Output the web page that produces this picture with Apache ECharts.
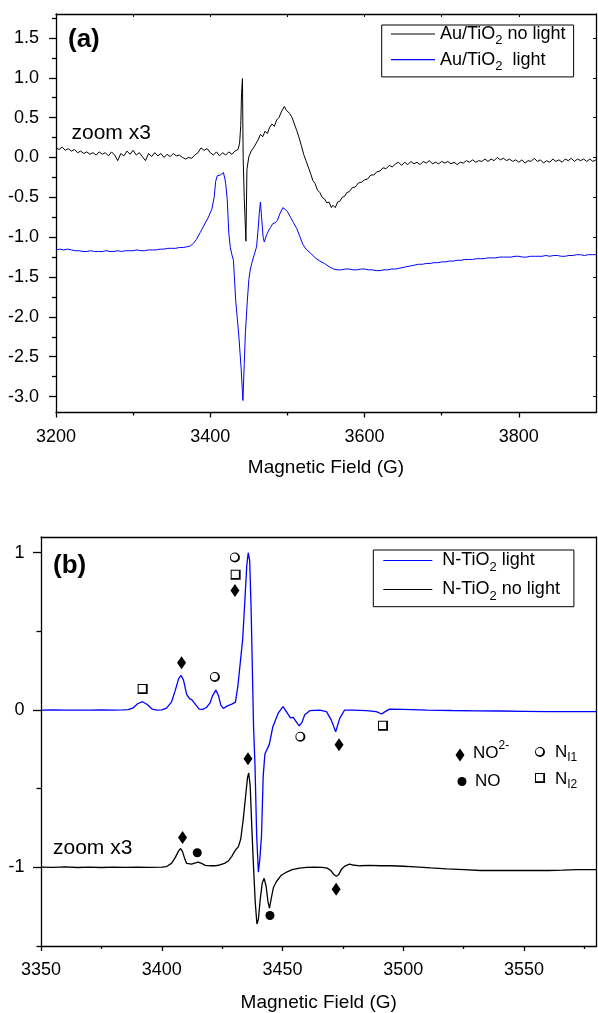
<!DOCTYPE html>
<html><head><meta charset="utf-8">
<script src="https://cdn.jsdelivr.net/npm/echarts@6/dist/echarts.min.js"></script>
<style>html,body{margin:0;padding:0;background:#fff}#c{width:598px;height:1013px}</style>
</head><body><div id="c"></div>
<script>
const FONT = '"Liberation Sans", Arial, Helvetica, sans-serif';
const BLUE = '#0000ff';

// ---------- Panel (a) ----------
const aXTicks = [3200, 3400, 3600, 3800];
const aXMinor = [3300, 3500, 3700];
const aXTop = [3300, 3400, 3500, 3600, 3700, 3800];
const aYTicks = [-3, -2.5, -2, -1.5, -1, -0.5, 0, 0.5, 1, 1.5];
const aYMinor = [-3.25, -2.75, -2.25, -1.75, -1.25, -0.75, -0.25, 0.25, 0.75, 1.25, 1.75];

const auNoLight = [
[3200,0.12],[3204,0.10],[3208,0.13],[3212,0.09],[3216,0.11],[3220,0.08],[3224,0.10],[3228,0.06],[3232,0.08],[3236,0.05],
[3240,0.07],[3244,0.04],[3248,0.06],[3252,0.03],[3256,0.07],[3260,0.04],[3264,0.06],[3268,0.02],[3272,0.07],[3276,0.03],
[3280,-0.04],[3284,0.05],[3288,0.02],[3292,0.08],[3296,0.04],[3300,0.09],[3304,0.03],[3308,0.06],[3312,0.01],[3316,-0.04],
[3320,0.05],[3324,0.01],[3328,0.06],[3332,0.02],[3336,0.05],[3340,0.00],[3344,0.04],[3348,0.01],[3352,0.05],[3356,0.02],
[3360,0.03],[3364,0.00],[3368,-0.02],[3372,0.00],[3376,-0.01],[3380,0.03],[3384,0.06],[3388,0.12],[3392,0.09],[3396,0.11],
[3400,0.06],[3404,0.03],[3408,0.07],[3412,0.02],[3416,0.06],[3420,0.03],[3424,0.07],[3428,0.04],[3432,0.08],[3436,0.10],
[3438,0.18],[3439.5,0.40],[3440.5,0.80],[3441.7,0.99],[3442.6,0.00],[3444,-0.50],[3446.2,-1.05],[3447.5,-0.15],[3450,0.01],
[3453,0.08],[3456,0.12],[3459,0.17],[3462,0.22],[3465,0.29],[3468,0.26],[3471,0.33],[3474,0.30],[3477,0.38],[3480,0.42],
[3483,0.39],[3486,0.47],[3489,0.50],[3492,0.57],[3494,0.55],[3496,0.64],[3498,0.60],[3500,0.62],[3503,0.55],[3506,0.50],
[3509,0.42],[3512,0.34],[3515,0.25],[3518,0.15],[3521,0.04],[3524,-0.04],[3527,-0.12],[3530,-0.20],[3533,-0.29],[3536,-0.33],
[3539,-0.41],[3542,-0.44],[3545,-0.50],[3548,-0.52],[3551,-0.57],[3554,-0.56],[3557,-0.63],[3559,-0.60],[3562,-0.63],[3565,-0.56],
[3568,-0.55],[3571,-0.50],[3574,-0.49],[3577,-0.44],[3580,-0.43],[3584,-0.38],[3588,-0.37],[3592,-0.32],[3596,-0.31],[3600,-0.28],
[3604,-0.27],[3608,-0.22],[3612,-0.22],[3616,-0.18],[3620,-0.17],[3624,-0.13],[3628,-0.14],[3632,-0.10],[3636,-0.12],[3640,-0.08],
[3644,-0.06],[3648,-0.10],[3652,-0.06],[3656,-0.09],[3660,-0.05],[3664,-0.08],[3668,-0.06],[3672,-0.09],[3676,-0.05],[3680,-0.07],
[3684,-0.04],[3688,-0.08],[3692,-0.06],[3696,-0.08],[3700,-0.05],[3704,-0.07],[3708,-0.05],[3712,-0.08],[3716,-0.06],[3720,-0.09],
[3724,-0.06],[3728,-0.07],[3732,-0.04],[3736,-0.06],[3740,-0.03],[3744,-0.06],[3748,-0.04],[3752,-0.05],[3756,-0.02],[3760,-0.05],
[3764,-0.02],[3768,-0.04],[3772,0.00],[3776,-0.03],[3780,-0.01],[3784,-0.04],[3788,-0.02],[3792,-0.05],[3796,-0.03],[3800,-0.06],
[3804,-0.03],[3808,-0.07],[3812,-0.04],[3816,-0.05],[3820,-0.01],[3824,-0.05],[3828,-0.03],[3832,-0.07],[3836,-0.04],[3840,-0.06],
[3844,-0.02],[3848,-0.05],[3852,-0.03],[3856,-0.06],[3860,-0.02],[3864,-0.04],[3868,-0.01],[3872,-0.05],[3876,-0.02],[3880,-0.04],
[3884,-0.02],[3888,-0.05],[3892,-0.02],[3896,-0.05],[3900,-0.03]
];

const auLight = [
[3200,-1.16],[3205,-1.15],[3210,-1.16],[3215,-1.15],[3220,-1.16],[3225,-1.17],[3230,-1.17],[3235,-1.18],[3240,-1.18],[3245,-1.17],
[3250,-1.18],[3255,-1.18],[3260,-1.18],[3265,-1.17],[3270,-1.18],[3275,-1.18],[3280,-1.17],[3285,-1.18],[3290,-1.17],[3295,-1.17],
[3300,-1.17],[3305,-1.16],[3310,-1.17],[3315,-1.17],[3320,-1.16],[3325,-1.16],[3330,-1.16],[3335,-1.15],[3340,-1.15],[3345,-1.14],
[3350,-1.14],[3355,-1.14],[3360,-1.13],[3365,-1.13],[3370,-1.12],[3374,-1.11],[3378,-1.08],[3382,-1.03],[3387,-0.94],[3392,-0.85],
[3397,-0.76],[3402,-0.65],[3405,-0.50],[3407,-0.30],[3409,-0.23],[3411,-0.21],[3413,-0.22],[3415,-0.21],[3417,-0.19],[3419,-0.27],
[3420,-0.33],[3422,-0.53],[3424,-0.95],[3426,-1.13],[3428,-1.22],[3430,-1.29],[3433,-1.80],[3437,-2.24],[3440,-2.65],[3442.3,-3.05],
[3444,-2.60],[3445.5,-2.20],[3448,-1.80],[3450,-1.53],[3452,-1.40],[3454,-1.32],[3457,-1.22],[3460,-1.12],[3462,-0.90],[3463.5,-0.70],
[3465,-0.56],[3466.5,-0.75],[3468.5,-1.00],[3470,-1.06],[3473,-0.97],[3476,-0.91],[3478,-0.88],[3481,-0.83],[3484,-0.82],[3487,-0.79],
[3490,-0.71],[3494,-0.63],[3497,-0.65],[3500,-0.68],[3504,-0.75],[3508,-0.82],[3512,-0.89],[3516,-0.99],[3520,-1.09],[3524,-1.15],
[3530,-1.20],[3536,-1.26],[3542,-1.30],[3548,-1.33],[3554,-1.37],[3560,-1.40],[3565,-1.41],[3570,-1.41],[3575,-1.40],[3580,-1.40],
[3585,-1.41],[3590,-1.41],[3595,-1.40],[3600,-1.40],[3605,-1.41],[3610,-1.41],[3615,-1.42],[3620,-1.42],[3625,-1.41],[3630,-1.41],
[3635,-1.40],[3640,-1.40],[3645,-1.39],[3650,-1.38],[3655,-1.37],[3660,-1.36],[3665,-1.35],[3670,-1.34],[3675,-1.34],[3680,-1.33],
[3685,-1.33],[3690,-1.32],[3695,-1.32],[3700,-1.31],[3705,-1.31],[3710,-1.30],[3715,-1.30],[3720,-1.29],[3725,-1.29],[3730,-1.28],
[3735,-1.28],[3740,-1.28],[3745,-1.27],[3750,-1.27],[3755,-1.27],[3760,-1.26],[3765,-1.26],[3770,-1.26],[3775,-1.25],[3780,-1.25],
[3785,-1.25],[3790,-1.25],[3795,-1.24],[3800,-1.24],[3805,-1.25],[3810,-1.25],[3815,-1.24],[3820,-1.24],[3825,-1.24],[3830,-1.24],
[3835,-1.23],[3840,-1.24],[3845,-1.23],[3850,-1.23],[3855,-1.24],[3860,-1.24],[3865,-1.23],[3870,-1.23],[3875,-1.22],[3880,-1.22],
[3885,-1.23],[3890,-1.22],[3895,-1.22],[3900,-1.22]
];

// ---------- Panel (b) ----------
const bXTicks = [3350, 3400, 3450, 3500, 3550];
const bXMinor = [3375, 3425, 3475, 3525, 3575];
const bYTicks = [-1, 0, 1];
const bYMinor = [-1.5, -0.5, 0.5];

const nLight = [
[3350,0.000],[3355,0.001],[3360,0.000],[3365,-0.001],[3370,0.000],[3375,0.001],[3380,0.000],[3384,0.001],[3386,0.003],[3388,0.012],
[3390,0.040],[3392,0.053],[3394,0.035],[3396,0.006],[3398,0.000],[3400,0.001],[3402,0.012],[3404,0.050],[3405.5,0.120],[3407,0.200],
[3408,0.220],[3409,0.190],[3410.3,0.100],[3411.5,0.072],[3412.5,0.065],[3414,0.035],[3415.5,0.006],[3417,0.004],[3418.5,0.016],[3420,0.045],
[3421,0.090],[3422.4,0.127],[3423.5,0.090],[3424.5,0.030],[3425.5,0.010],[3427,0.025],[3429,0.038],[3430.5,0.050],[3431.5,0.150],[3432.5,0.300],
[3433.5,0.450],[3434.5,0.720],[3435.2,0.920],[3435.8,1.000],[3436.4,0.950],[3437,0.640],[3438,-0.100],[3438.6,-0.350],[3439.3,-0.800],[3440,-1.030],
[3440.6,-0.950],[3441.3,-0.800],[3442,-0.420],[3442.7,-0.280],[3444.5,-0.220],[3446,-0.106],[3448.2,-0.020],[3450.2,0.021],[3451.6,-0.010],[3453.3,-0.050],
[3454.4,-0.047],[3455.5,-0.070],[3456.9,-0.100],[3458,-0.080],[3459.2,-0.030],[3461.3,-0.004],[3465.4,0.000],[3468.2,-0.010],[3470.2,-0.064],[3472,-0.138],
[3473.7,-0.053],[3475.7,0.000],[3479.2,0.000],[3484.7,-0.004],[3488.8,-0.010],[3491,-0.025],[3492.5,-0.010],[3494.3,0.006],[3500,0.004],[3510,0.000],
[3520,-0.003],[3530,-0.005],[3540,-0.006],[3550,-0.008],[3560,-0.010],[3570,-0.010],[3580,-0.010]
];

const nNoLight = [
[3350,-0.998],[3355,-1.000],[3360,-0.997],[3365,-1.001],[3370,-0.998],[3375,-1.001],[3380,-0.999],[3385,-1.000],[3390,-0.998],[3395,-1.000],
[3400,-0.998],[3402,-0.995],[3404,-0.975],[3405.5,-0.940],[3407,-0.895],[3407.8,-0.880],[3408.6,-0.900],[3409.4,-0.940],[3410.3,-0.975],[3411,-0.987],
[3412.3,-0.980],[3414,-0.972],[3415,-0.967],[3416.5,-0.975],[3418,-0.987],[3420,-0.990],[3422,-0.990],[3424,-0.985],[3426,-0.975],[3427.5,-0.960],
[3429,-0.930],[3430.5,-0.890],[3431.7,-0.870],[3432.7,-0.820],[3433.7,-0.700],[3434.7,-0.550],[3435.5,-0.430],[3436,-0.400],[3436.6,-0.480],[3437.3,-0.750],
[3438,-1.000],[3438.7,-1.220],[3439.4,-1.360],[3440,-1.330],[3440.8,-1.200],[3441.6,-1.100],[3442.4,-1.070],[3443.2,-1.120],[3444,-1.220],[3444.6,-1.260],
[3445.3,-1.200],[3446.2,-1.130],[3447.5,-1.090],[3449.5,-1.050],[3451.7,-1.030],[3454,-1.015],[3457,-1.005],[3460,-1.000],[3463,-0.998],[3466.4,-1.000],
[3468.5,-1.005],[3470,-1.020],[3471.2,-1.045],[3472.3,-1.057],[3473.3,-1.045],[3474.5,-1.010],[3476,-0.990],[3477.7,-0.980],[3479,-0.985],[3482,-0.990],
[3486,-0.988],[3490.7,-0.990],[3495,-0.990],[3500,-0.993],[3505,-0.997],[3511.4,-1.004],[3518,-1.010],[3525,-1.015],[3532,-1.020],[3540,-1.020],
[3546,-1.020],[3552.7,-1.020],[3560,-1.020],[3566,-1.018],[3572,-1.015],[3580,-1.015]
];

const markNO2 = [[3408.2,0.30],[3430.3,0.76],[3435.7,-0.31],[3473.4,-0.22],[3408.6,-0.81],[3472.2,-1.14]];
const markNO  = [[3414.7,-0.907],[3444.8,-1.306]];
const markNI1 = [[3422.0,0.21],[3430.3,0.97],[3457.4,-0.17]];
const markNI2 = [[3392.1,0.134],[3430.6,0.86],[3491.6,-0.10]];

const HALF_CIRCLE = 'path://M10,5A5,5 0 1,1 0,5A5,5 0 1,1 10,5Z M8.1,4.6A3.6,3.6 0 1,0 0.9,4.6A3.6,3.6 0 1,0 8.1,4.6Z';
const SHADOW_SQUARE = 'path://M0,0L10,0L10,10L0,10Z M1,1L1,8.2L8.2,8.2L8.2,1Z';

const legendNames = {
  'Au/TiO2 no light': '{n|Au/TiO}{s|2}{n| no light}',
  'Au/TiO2  light': '{n|Au/TiO}{s|2}{n|  light}',
  'N-TiO2 light': '{n| N-TiO}{s|2}{n| light}',
  'N-TiO2 no light': '{n| N-TiO}{s|2}{n| no light}'
};

const blackLine = {color:'#000', width:1.3};
function baseAxis(grid, min, max, pos, extra) {
  return Object.assign({
    gridIndex: grid, type: 'value', min: min, max: max, position: pos,
    axisLine: {show: false, onZero: false, lineStyle: blackLine},
    axisTick: {show: false},
    axisLabel: {show: false},
    splitLine: {show: false},
    minorTick: {show: false}
  }, extra);
}
const tickLabel = {color:'#000', fontSize:18, fontFamily:FONT};
const nameStyle = {color:'#000', fontSize:19, fontFamily:FONT};
const plainNum = function (v) { return String(v); };

const xAxes = [
  baseAxis(0, 3200, 3900, 'bottom', {
    axisLine:{show:true, onZero:false, lineStyle:blackLine},
    axisTick:{show:true, inside:false, length:5, customValues:aXTicks, lineStyle:blackLine},
    axisLabel:Object.assign({show:true, customValues:aXTicks, margin:16, formatter:plainNum}, tickLabel),
    name:'Magnetic Field (G)', nameLocation:'middle', nameGap:45.5, nameTextStyle:nameStyle
  }),
  baseAxis(0, 3200, 3900, 'bottom', {
    axisTick:{show:true, inside:false, length:3, customValues:aXMinor, lineStyle:blackLine}
  }),
  baseAxis(0, 3200, 3900, 'top', {
    axisLine:{show:true, onZero:false, lineStyle:blackLine},
    axisTick:{show:true, inside:true, length:3, customValues:aXTop, lineStyle:{color:'#000', width:1}}
  }),
  baseAxis(1, 3350, 3580, 'bottom', {
    axisLine:{show:true, onZero:false, lineStyle:blackLine},
    axisTick:{show:true, inside:false, length:5, customValues:bXTicks, lineStyle:blackLine},
    axisLabel:Object.assign({show:true, customValues:bXTicks, margin:15, formatter:plainNum}, tickLabel),
    name:'Magnetic Field (G)', nameLocation:'middle', nameGap:46.8, nameTextStyle:nameStyle
  }),
  baseAxis(1, 3350, 3580, 'bottom', {
    axisTick:{show:true, inside:false, length:3, customValues:bXMinor, lineStyle:blackLine}
  }),
  baseAxis(1, 3350, 3580, 'top', {
    axisLine:{show:true, onZero:false, lineStyle:blackLine}
  })
];

const yAxes = [
  baseAxis(0, -3.2, 1.8, 'left', {
    axisLine:{show:true, onZero:false, lineStyle:blackLine},
    axisTick:{show:true, inside:false, length:7, customValues:aYTicks, lineStyle:blackLine},
    axisLabel:Object.assign({show:true, customValues:aYTicks, margin:17, formatter:function(v){return Number(v).toFixed(1);}}, tickLabel)
  }),
  baseAxis(0, -3.2, 1.8, 'left', {
    axisTick:{show:true, inside:false, length:4, customValues:aYMinor, lineStyle:blackLine}
  }),
  baseAxis(0, -3.2, 1.8, 'right', {
    axisLine:{show:true, onZero:false, lineStyle:blackLine},
    axisTick:{show:true, inside:true, length:3, customValues:aYTicks, lineStyle:{color:'#000', width:1}}
  }),
  baseAxis(1, -1.5, 1.1, 'left', {
    axisLine:{show:true, onZero:false, lineStyle:blackLine},
    axisTick:{show:true, inside:false, length:8, customValues:bYTicks, lineStyle:blackLine},
    axisLabel:Object.assign({show:true, customValues:bYTicks, margin:16.5, formatter:function(v){return String(Math.round(v));}}, tickLabel)
  }),
  baseAxis(1, -1.5, 1.1, 'left', {
    axisTick:{show:true, inside:false, length:4.5, customValues:bYMinor, lineStyle:blackLine}
  }),
  baseAxis(1, -1.5, 1.1, 'right', {
    axisLine:{show:true, onZero:false, lineStyle:blackLine}
  })
];

const legendRich = {
  n: {fontSize:18, lineHeight:26, fontFamily:FONT, color:'#000'},
  s: {fontSize:13, lineHeight:13, fontFamily:FONT, color:'#000', verticalAlign:'bottom'}
};
function legendCfg(data, left, top, itemWidth, itemGap, padding) {
  return {
    data: data, orient:'vertical', left:left, top:top, icon:'rect',
    itemWidth:itemWidth, itemHeight:1.2, itemGap:itemGap, padding:padding,
    itemStyle:{borderWidth:0},
    borderColor:'#000', borderWidth:1, borderRadius:0, backgroundColor:'#fff',
    selectedMode:false,
    formatter:function(name){ return legendNames[name]; },
    textStyle:{fontSize:18, fontFamily:FONT, color:'#000', rich:legendRich}
  };
}

function lineSeries(name, data, xi, yi, color, width) {
  return {type:'line', name:name, data:data, xAxisIndex:xi, yAxisIndex:yi,
    showSymbol:false, symbol:'none', smooth:false, silent:true, animation:false,
    lineStyle:{color:color, width:width}, itemStyle:{color:color}, z:3};
}
function markSeries(data, symbol, size) {
  return {type:'scatter', data:data, xAxisIndex:3, yAxisIndex:3, symbol:symbol,
    symbolSize:size, silent:true, animation:false, itemStyle:{color:'#000', opacity:1}, z:5};
}

const keyRichSup = {
  a:{fontSize:17, lineHeight:27, fontFamily:FONT, fill:'#000'},
  b:{fontSize:12, lineHeight:12, fontFamily:FONT, fill:'#000', verticalAlign:'top'}
};
const keyRichSub = {
  a:{fontSize:17, lineHeight:23, fontFamily:FONT, fill:'#000'},
  b:{fontSize:12, lineHeight:12, fontFamily:FONT, fill:'#000', verticalAlign:'bottom'}
};

const option = {
  animation:false,
  backgroundColor:'#fff',
  grid:[
    {left:56, top:14, width:540, height:398.5, outerBoundsMode:'none', containLabel:false},
    {left:41, top:537, width:555.5, height:409, outerBoundsMode:'none', containLabel:false}
  ],
  xAxis:xAxes,
  yAxis:yAxes,
  legend:[
    legendCfg(['Au/TiO2 no light','Au/TiO2  light'], 381.7, 25, 44, 3.7, [0, 8, 4.2, 9.3]),
    legendCfg(['N-TiO2 light','N-TiO2 no light'], 373.3, 550, 49, 7, [1.5, 14, 4.2, 10])
  ],
  graphic:[
    {type:'text', x:68, y:39.5, style:{text:'(a)', fontSize:26, fontWeight:'bold', fontFamily:FONT, fill:'#000', align:'left', verticalAlign:'middle'}},
    {type:'text', x:53, y:566, style:{text:'(b)', fontSize:26, fontWeight:'bold', fontFamily:FONT, fill:'#000', align:'left', verticalAlign:'middle'}},
    {type:'text', x:71.5, y:133.3, style:{text:'zoom x3', fontSize:21, fontFamily:FONT, fill:'#000', align:'left', verticalAlign:'middle'}},
    {type:'text', x:53, y:848.3, style:{text:'zoom x3', fontSize:21, fontFamily:FONT, fill:'#000', align:'left', verticalAlign:'middle'}},
    {type:'polygon', shape:{points:[[460,748.5],[464.5,755],[460,761.5],[455.5,755]]}, style:{fill:'#000'}},
    {type:'text', x:473, y:753.5, style:{text:'{a|NO}{b|2-}', rich:keyRichSup, align:'left', verticalAlign:'middle'}},
    {type:'circle', shape:{cx:540, cy:752, r:5}, style:{fill:'#000'}},
    {type:'circle', shape:{cx:539.5, cy:751.6, r:3.6}, style:{fill:'#fff'}},
    {type:'text', x:555, y:752, style:{text:'{a|N}{b|I1}', rich:keyRichSub, align:'left', verticalAlign:'middle'}},
    {type:'circle', shape:{cx:462, cy:781.5, r:4.5}, style:{fill:'#000'}},
    {type:'text', x:475, y:781, style:{text:'NO', fontSize:17, fontFamily:FONT, fill:'#000', align:'left', verticalAlign:'middle'}},
    {type:'rect', shape:{x:535, y:773, width:10, height:10}, style:{fill:'#000'}},
    {type:'rect', shape:{x:536, y:774, width:7.2, height:7.2}, style:{fill:'#fff'}},
    {type:'text', x:555, y:779.5, style:{text:'{a|N}{b|I2}', rich:keyRichSub, align:'left', verticalAlign:'middle'}}
  ],
  series:[
    lineSeries('Au/TiO2  light', auLight, 0, 0, BLUE, 1),
    lineSeries('Au/TiO2 no light', auNoLight, 0, 0, '#000', 1),
    lineSeries('N-TiO2 no light', nNoLight, 3, 3, '#000', 1.3),
    lineSeries('N-TiO2 light', nLight, 3, 3, BLUE, 1.3),
    markSeries(markNO2, 'diamond', [9,13]),
    markSeries(markNO, 'circle', 9),
    markSeries(markNI1, HALF_CIRCLE, 10),
    markSeries(markNI2, SHADOW_SQUARE, 10)
  ]
};

const chart = echarts.init(document.getElementById('c'), null, {renderer:'canvas'});
chart.setOption(option);
</script></body></html>
